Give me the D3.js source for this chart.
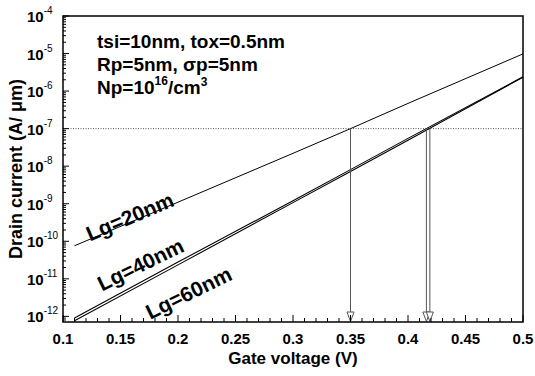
<!DOCTYPE html>
<html>
<head>
<meta charset="utf-8">
<script src="https://cdn.jsdelivr.net/npm/d3@7"></script>
<style>
  body { margin: 0; background: #fff; }
  text { font-family: Arial, "Liberation Sans", sans-serif; }
</style>
</head>
<body>
<div id="chart"></div>
<script>
// gate voltage (V) and drain current (A/um)
const vg = [0.11, 0.2, 0.3, 0.35, 0.4, 0.5];
const idLg20 = [7.6e-11, 1.1e-9, 2.2e-8, 1.0e-7, 4.7e-7, 9.8e-6];
const idLg40 = [9.1e-13, 2.8e-11, 1.2e-9, 8.1e-9, 5.5e-8, 2.4e-6];
const idLg60 = [7.6e-13, 2.35e-11, 1.07e-9, 7.2e-9, 4.9e-8, 2.35e-6];
const seriesNames = ["Lg=20nm", "Lg=40nm", "Lg=60nm"];

// threshold current and the gate voltages where each curve crosses it
const iTarget = 1e-7;
const vCross = [0.35, 0.416, 0.419];

const xTicks = [0.1, 0.15, 0.2, 0.25, 0.3, 0.35, 0.4, 0.45, 0.5];
const xTickLabels = ["0.1", "0.15", "0.2", "0.25", "0.3", "0.35", "0.4", "0.45", "0.5"];
const yExponents = [-12, -11, -10, -9, -8, -7, -6, -5, -4];

const width = 535, height = 376;
const margin = {top: 16, right: 12, bottom: 54, left: 63};

const svg = d3.select("#chart").append("svg")
  .attr("width", width)
  .attr("height", height);

const x = d3.scaleLinear()
  .domain([0.1, 0.5])
  .range([margin.left, width - margin.right]);

const y = d3.scaleLog()
  .domain([Math.pow(10, -12.15), 1e-4])
  .range([height - margin.bottom, margin.top]);

const x0 = x.range()[0], x1 = x.range()[1];
const yb = y.range()[0], yt = y.range()[1];

// dotted reference line at 1e-7
svg.append("line")
  .attr("x1", x0).attr("x2", x1)
  .attr("y1", y(iTarget)).attr("y2", y(iTarget))
  .style("stroke", "#555")
  .style("stroke-width", 1)
  .style("stroke-dasharray", "1,1.5");

// curves
const line = d3.line()
  .x((d, i) => x(vg[i]))
  .y(d => y(d));

svg.append("g")
  .attr("class", "curves")
  .selectAll("path")
  .data([idLg20, idLg40, idLg60])
  .enter().append("path")
  .attr("d", line)
  .style("fill", "none")
  .style("stroke", "#000")
  .style("stroke-width", (d, i) => i == 0 ? 1 : 1.1);

// arrows down to the voltage axis
const arrows = svg.append("g").attr("class", "arrows");
vCross.forEach(v => {
  const ax = x(v);
  arrows.append("line")
    .attr("x1", ax).attr("x2", ax)
    .attr("y1", y(iTarget)).attr("y2", yb - 9)
    .style("stroke", "#555")
    .style("stroke-width", 1);
  arrows.append("path")
    .attr("d", "M" + (ax - 3.5) + "," + (yb - 10) + "L" + (ax + 3.5) + "," + (yb - 10) + "L" + ax + "," + (yb - 0.5) + "Z")
    .style("fill", "#fff")
    .style("stroke", "#555")
    .style("stroke-width", 1);
});

// frame
svg.append("rect")
  .attr("x", x0).attr("y", yt)
  .attr("width", x1 - x0).attr("height", yb - yt)
  .style("fill", "none")
  .style("stroke", "#000")
  .style("stroke-width", 1.5);

// x ticks (inward), minor every 0.01
const xMinor = d3.range(10, 51).map(d => d / 100);
svg.append("g")
  .selectAll("line")
  .data(xMinor)
  .enter().append("line")
  .attr("x1", d => x(d)).attr("x2", d => x(d))
  .attr("y1", yb)
  .attr("y2", d => yb - (Math.round(d * 100) % 5 == 0 ? 7 : 4))
  .style("stroke", "#000")
  .style("stroke-width", 1);

svg.append("g")
  .selectAll("text")
  .data(xTicks)
  .enter().append("text")
  .attr("x", d => x(d))
  .attr("y", yb + 22)
  .attr("text-anchor", "middle")
  .style("font-size", "15px")
  .style("font-weight", "bold")
  .text((d, i) => xTickLabels[i]);

// y ticks (inward), log minors
const yMinor = [];
yExponents.forEach(e => {
  for (let m = 1; m < 10; m++) {
    const v = m * Math.pow(10, e - 1);
    if (v >= y.domain()[0] && v <= 1e-4) yMinor.push({v: v, major: m == 1});
  }
});
yMinor.push({v: 1e-4, major: true});
svg.append("g")
  .selectAll("line")
  .data(yMinor)
  .enter().append("line")
  .attr("x1", x0)
  .attr("x2", d => x0 + (d.major ? 6 : 3))
  .attr("y1", d => y(d.v)).attr("y2", d => y(d.v))
  .style("stroke", "#000")
  .style("stroke-width", 1);

const yLab = svg.append("g")
  .selectAll("text")
  .data(yExponents)
  .enter().append("text")
  .attr("x", 27)
  .attr("y", d => y(Math.pow(10, d)) + 6)
  .style("font-size", "15px")
  .style("font-weight", "bold");
yLab.append("tspan").text("10");
yLab.append("tspan")
  .attr("dy", -8)
  .style("font-size", "10px")
  .style("font-weight", "normal")
  .text(d => d);

// axis titles
svg.append("text")
  .attr("x", (x0 + x1) / 2)
  .attr("y", 364)
  .attr("text-anchor", "middle")
  .style("font-size", "17px")
  .style("font-weight", "bold")
  .text("Gate voltage (V)");

svg.append("text")
  .attr("transform", "translate(22," + ((yt + yb) / 2) + ") rotate(-90)")
  .attr("text-anchor", "middle")
  .style("font-size", "18px")
  .style("font-weight", "bold")
  .text("Drain current (A/ \u03bcm)");

// parameter annotation
const note = svg.append("g").style("font-size", "19px").style("font-weight", "bold");
note.append("text").attr("x", 97).attr("y", 48).text("tsi=10nm, tox=0.5nm");
note.append("text").attr("x", 97).attr("y", 71).text("Rp=5nm, \u03c3p=5nm");
const np = note.append("text").attr("x", 97).attr("y", 94);
np.append("tspan").text("Np=10");
np.append("tspan").attr("dy", -9).style("font-size", "12px").text("16");
np.append("tspan").attr("dy", 9).text("/cm");
np.append("tspan").attr("dy", -8).style("font-size", "12px").text("3");

// curve labels, rotated along the curves
const labelPos = [
  {v: 0.1235, i: 9.8e-11, angle: -23},
  {v: 0.134, i: 4.6e-12, angle: -26},
  {v: 0.1758, i: 8.1e-13, angle: -26}
];
svg.append("g")
  .selectAll("text")
  .data(seriesNames)
  .enter().append("text")
  .attr("transform", (d, i) => "translate(" + x(labelPos[i].v) + "," + y(labelPos[i].i) + ") rotate(" + labelPos[i].angle + ")")
  .style("font-size", "21px")
  .style("font-weight", "bold")
  .text(d => d);
</script>
</body>
</html>
